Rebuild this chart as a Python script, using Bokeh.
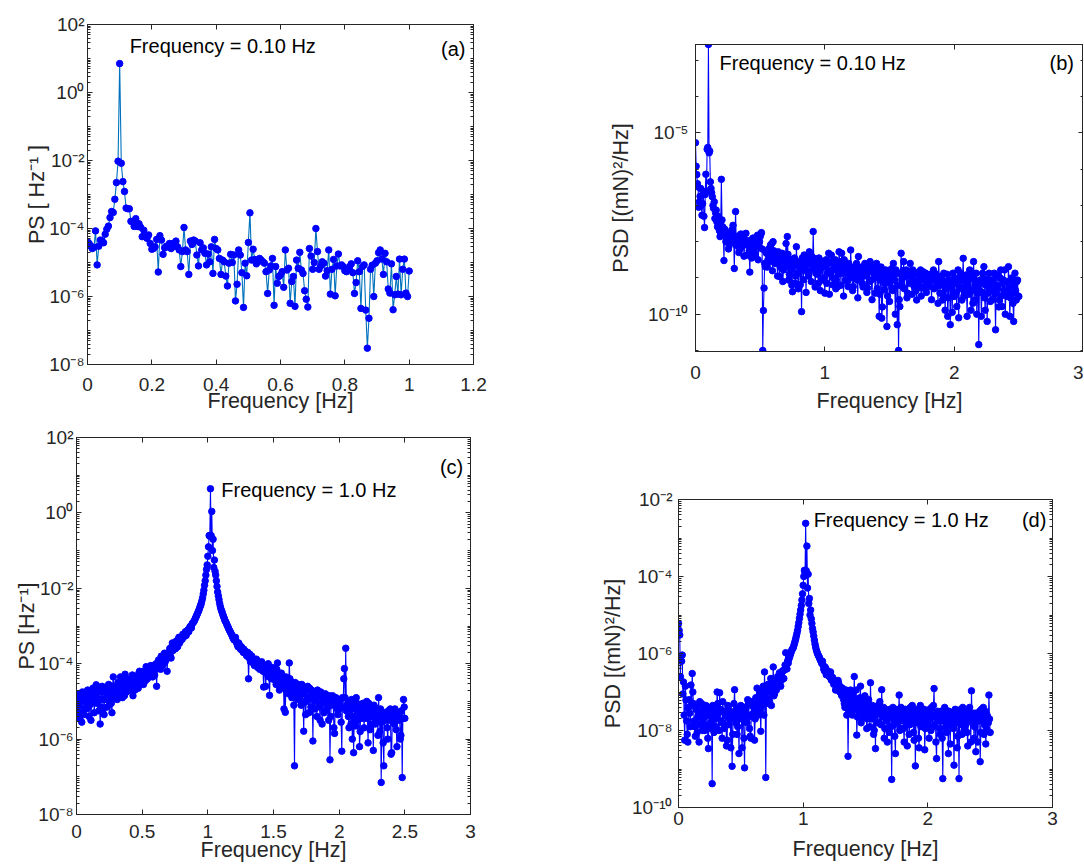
import numpy as np
from bokeh.plotting import figure
from bokeh.layouts import column, row
from bokeh.models import (FixedTicker, CustomJSTickFormatter, LogAxis, LinearAxis,
                          Label, Range1d)
from bokeh.embed import file_html
from bokeh.resources import INLINE

FONT = "Liberation Sans"
AX = "#262626"

# ---------------- data (log10 of the plotted values) -------------
# (a) PS [Hz^-1], bins of 0.005 Hz from 0 to 1.0 Hz
a_df = 0.005
a_log10 = [
    -4.39, -4.44, -4.52, -4.59, -4.55, -4.07, -5.07, -4.52, -4.34, -4.36,
    -4.42, -4.17, -4.02, -3.93, -3.68, -3.50, -3.53, -3.14, -2.65, -2.02,
    0.85, -2.08, -2.62, -2.91, -3.40, -3.42, -3.42, -3.79, -3.81, -3.94,
    -3.71, -3.94, -3.86, -3.96, -4.24, -4.05, -4.19, -4.29, -4.19, -4.44,
    -4.61, -4.59, -4.54, -4.32, -5.28, -4.21, -4.34, -4.76, -4.57, -4.52,
    -4.54, -4.44, -4.59, -4.44, -4.52, -4.37, -4.54, -4.63, -5.12, -4.68,
    -3.97, -4.63, -4.68, -5.35, -4.37, -4.47, -4.34, -4.37, -4.78, -5.10,
    -4.42, -4.63, -4.57, -4.73, -5.07, -4.75, -4.98, -4.54, -5.32, -4.32,
    -4.59, -4.63, -4.88, -5.35, -4.93, -4.98, -5.40, -5.69, -5.02, -4.76,
    -5.00, -4.78, -6.13, -5.64, -4.63, -4.78, -5.30, -6.32, -5.02, -5.39,
    -4.41, -3.54, -4.93, -4.61, -4.91, -5.04, -4.96, -4.88, -4.93, -4.98,
    -5.02, -5.27, -5.91, -5.22, -5.10, -4.88, -6.26, -5.12, -5.61, -5.41,
    -5.37, -5.27, -5.73, -4.63, -5.22, -5.17, -6.20, -5.56, -5.41, -6.29,
    -4.93, -5.17, -4.70, -5.22, -5.32, -5.83, -6.08, -6.31, -4.59, -4.81,
    -5.20, -5.00, -4.00, -4.68, -5.20, -5.10, -4.98, -5.02, -5.40, -5.24,
    -4.63, -5.93, -5.20, -4.91, -5.98, -5.10, -4.75, -5.10, -5.07, -5.12,
    -5.24, -5.27, -5.19, -5.12, -5.04, -5.30, -5.91, -5.59, -4.95, -5.27,
    -6.35, -5.12, -5.07, -6.40, -7.52, -6.64, -5.20, -5.08, -6.00, -5.02,
    -4.95, -4.71, -4.63, -4.90, -5.35, -4.73, -4.98, -5.78, -5.90, -5.04,
    -6.39, -5.95, -5.41, -5.93, -4.90, -5.95, -5.20, -4.90, -5.90, -6.00,
    -5.25,
]

# (b) PSD [(mN)^2/Hz]; "even" bins at 0, 0.01 ... 2.5 Hz, "odd" bins at 0.005 ... 2.495 Hz
b_df = 0.01
b_log10_even = [
    -5.27, -6.15, -6.49, -6.90, -6.53, -7.27, -6.62, -7.61, -6.14, -5.45,
    -2.56, -5.50, -6.53, -6.76, -7.08, -7.36, -7.13, -7.59, -7.45, -7.86,
    -6.28, -7.59, -8.52, -7.72, -7.95, -7.77, -8.11, -7.95, -7.68, -7.55,
    -8.74, -7.17, -8.05, -7.95, -8.23, -7.79, -8.00, -7.86, -8.09, -7.77,
    -8.37, -8.05, -8.84, -7.95, -8.18, -8.00, -8.41, -8.05, -7.82, -8.14,
    -7.86, -7.75, -11.00, -9.28, -8.69, -8.32, -8.50, -8.41, -8.09, -8.05,
    -8.00, -8.41, -8.32, -8.55, -8.28, -8.96, -8.50, -8.32, -8.78, -8.50,
    -8.05, -7.86, -9.06, -8.55, -8.78, -9.38, -8.60, -9.15, -8.14, -8.87,
    -8.69, -9.19, -9.93, -8.50, -8.37, -8.78, -8.41, -8.87, -8.28, -8.60,
    -8.41, -7.72, -8.46, -8.87, -8.55, -9.15, -8.78, -8.55, -9.06, -8.69,
    -9.42, -8.50, -8.87, -8.32, -8.87, -8.37, -9.19, -8.78, -8.50, -9.06,
    -9.24, -8.28, -8.69, -8.32, -8.87, -8.50, -9.06, -8.78, -9.24, -8.69,
    -8.23, -8.92, -9.24, -8.87, -8.69, -9.06, -8.41, -8.87, -8.78, -9.15,
    -8.78, -8.60, -8.92, -9.28, -8.83, -8.55, -9.06, -8.74, -8.87, -9.42,
    -8.60, -8.78, -10.06, -9.06, -10.11, -8.87, -9.33, -8.78, -10.34, -9.06,
    -9.65, -8.87, -9.28, -8.60, -9.06, -8.78, -10.29, -11.00, -9.79, -8.32,
    -9.24, -8.55, -8.96, -8.78, -9.42, -8.83, -8.60, -9.06, -8.78, -9.24,
    -8.87, -9.61, -8.87, -9.06, -8.78, -9.28, -8.83, -9.06, -8.87, -9.19,
    -8.92, -9.24, -8.96, -9.06, -8.78, -8.87, -9.24, -8.96, -8.55, -9.42,
    -9.06, -9.61, -8.87, -9.89, -9.19, -10.06, -9.06, -10.29, -9.24, -8.87,
    -9.51, -9.01, -9.79, -8.78, -9.24, -8.87, -9.61, -8.46, -9.42, -8.92,
    -10.06, -9.06, -8.78, -9.89, -8.87, -8.55, -9.61, -8.87, -9.42, -10.84,
    -9.06, -10.06, -8.87, -8.69, -9.89, -9.06, -9.42, -8.87, -9.65, -9.06,
    -9.33, -8.87, -10.43, -9.24, -8.92, -9.61, -8.78, -9.79, -9.06, -8.78,
    -9.42, -9.51, -8.69, -10.06, -9.06, -9.42, -10.20, -8.87, -9.61, -9.06,
    -9.51,
]
b_log10_odd = [
    -5.92, -6.40, -7.05, -6.75, -7.00, -6.95, -7.30, -6.70, -6.60, -5.40,
    -5.55, -6.35, -6.65, -7.00, -6.90, -7.20, -7.45, -7.30, -7.70, -7.55,
    -7.40, -7.80, -7.65, -8.00, -7.80, -8.20, -7.90, -7.75, -8.00, -7.85,
    -7.90, -8.10, -7.85, -8.30, -7.90, -8.15, -7.80, -8.40, -7.95, -8.05,
    -8.00, -8.25, -8.10, -8.45, -7.90, -8.30, -8.15, -7.95, -8.50, -8.00,
    -7.80, -8.20, -9.90, -8.60, -8.30, -8.70, -8.20, -8.55, -8.35, -8.80,
    -8.25, -8.60, -8.40, -8.95, -8.35, -8.70, -8.45, -9.10, -8.55, -8.40,
    -8.70, -8.35, -8.90, -8.50, -9.20, -8.65, -8.45, -8.95, -8.60, -9.30,
    -8.55, -8.80, -8.45, -9.05, -8.70, -9.40, -8.60, -8.95, -8.50, -9.10,
    -8.75, -8.50, -9.25, -8.65, -8.90, -8.45, -9.35, -8.70, -8.55, -9.00,
    -8.70, -9.15, -8.60, -9.45, -8.80, -8.55, -9.00, -8.65, -9.30, -8.75,
    -8.90, -8.55, -9.20, -8.75, -9.50, -8.65, -8.85, -9.10, -8.60, -9.00,
    -8.80, -9.35, -8.70, -8.95, -8.60, -9.55, -8.85, -9.05, -8.70, -9.25,
    -8.95, -8.65, -9.40, -8.80, -9.10, -8.70, -9.60, -8.85, -9.00, -8.75,
    -9.30, -8.90, -9.45, -8.70, -9.80, -8.95, -9.15, -8.80, -9.50, -8.90,
    -9.10, -8.75, -9.35, -8.95, -10.00, -8.85, -9.20, -9.60, -8.90, -9.05,
    -8.80, -9.30, -8.95, -9.55, -8.85, -9.15, -9.00, -9.45, -8.90, -9.10,
    -9.35, -8.85, -9.20, -9.00, -9.50, -8.90, -9.25, -8.95, -9.40, -9.05,
    -9.15, -8.90, -9.60, -9.00, -9.30, -8.95, -9.10, -9.70, -9.00, -9.20,
    -8.95, -9.45, -9.10, -9.30, -8.90, -9.55, -9.05, -9.20, -9.95, -9.10,
    -9.00, -9.40, -9.15, -10.10, -9.05, -9.30, -8.95, -9.50, -9.10, -9.25,
    -9.20, -9.45, -8.95, -9.35, -9.70, -9.05, -9.25, -10.00, -9.10, -9.35,
    -9.15, -9.40, -9.00, -9.55, -9.20, -10.20, -9.05, -9.35, -9.15, -9.60,
    -9.05, -9.45, -9.20, -9.30, -9.80, -9.00, -9.50, -9.15, -9.35, -10.00,
    -9.10, -9.40, -9.25, -9.55, -9.00, -9.70, -9.20, -9.35, -9.10, -9.50,
]

# (c) PS [Hz^-1]
c_df = 0.01
c_log10_even = [
    -4.85, -5.00, -5.30, -4.90, -5.55, -4.95, -5.20, -4.75, -5.05, -4.80,
    -5.10, -5.50, -4.85, -4.70, -5.00, -4.56, -4.90, -5.25, -5.60, -4.75,
    -4.95, -5.35, -4.65, -4.85, -4.60, -5.00, -4.75, -5.30, -4.35, -4.80,
    -4.65, -4.95, -4.55, -4.80, -4.45, -4.90, -4.60, -4.28, -4.75, -4.50,
    -4.70, -4.45, -4.60, -4.85, -4.40, -4.55, -4.35, -4.65, -4.20, -4.45,
    -4.35, -4.55, -4.25, -4.08, -4.40, -4.20, -4.30, -4.10, -4.35, -4.05,
    -4.15, -4.60, -4.00, -3.95, -4.15, -3.85, -4.00, -3.72, -3.90, -4.20,
    -3.75, -3.60, -3.85, -3.45, -3.60, -3.50, -3.40, -3.55, -3.30, -3.40,
    -3.30, -3.22, -3.28, -3.15, -3.19, -3.10, -3.05, -3.00, -2.95, -2.90,
    -2.84, -2.76, -2.68, -2.60, -2.50, -2.40, -2.25, -2.05, -1.80, -1.50,
    -1.15, -0.60, 0.64, 0.04, -0.70, -1.25, -1.65, -1.95, -2.20, -2.40,
    -2.55, -2.65, -2.75, -2.85, -2.92, -3.00, -3.08, -3.15, -3.22, -3.30,
    -3.37, -3.30, -3.45, -3.55, -3.50, -3.62, -3.58, -3.70, -3.65, -3.75,
    -3.80, -4.40, -3.75, -3.90, -3.85, -4.00, -3.95, -3.88, -4.10, -4.00,
    -4.07, -3.95, -4.20, -4.05, -4.60, -4.15, -4.00, -4.84, -4.25, -4.10,
    -4.40, -4.20, -4.55, -3.98, -4.35, -4.60, -4.25, -4.50, -5.20, -5.29,
    -4.70, -4.45, -3.98, -4.65, -4.90, -4.50, -6.71, -4.60, -4.85, -4.55,
    -4.86, -5.10, -4.70, -5.79, -4.75, -5.00, -4.60, -5.30, -4.90, -4.70,
    -6.05, -4.95, -4.80, -5.40, -4.85, -5.15, -4.75, -5.60, -5.00, -4.90,
    -5.25, -4.95, -5.50, -6.55, -5.05, -4.85, -5.70, -5.10, -5.00, -5.35,
    -5.20, -4.95, -6.32, -5.15, -4.13, -3.59, -5.10, -5.40, -5.00, -5.60,
    -6.00, -6.36, -5.20, -4.90, -5.50, -5.10, -5.80, -5.25, -5.05, -5.70,
    -5.30, -5.00, -6.10, -5.40, -5.60, -5.15, -6.30, -5.35, -5.50, -5.20,
    -4.90, -5.80, -7.15, -5.40, -6.71, -5.50, -5.30, -6.00, -5.45, -5.20,
    -6.36, -5.30, -5.60, -5.35, -6.20, -5.45, -5.30, -5.90, -7.02, -4.95,
    -5.45,
]
c_log10_odd = [
    -5.15, -4.80, -5.45, -5.00, -4.75, -5.35, -4.90, -5.20, -4.70, -5.40,
    -4.90, -5.05, -4.65, -5.30, -4.80, -5.05, -4.70, -4.95, -5.15, -4.60,
    -5.20, -4.70, -4.95, -5.15, -4.55, -4.85, -5.05, -4.60, -4.90, -4.70,
    -4.90, -4.50, -4.75, -4.35, -4.70, -4.60, -4.85, -4.50, -4.40, -4.70,
    -4.50, -4.65, -4.30, -4.55, -4.70, -4.35, -4.50, -4.25, -4.55, -4.35,
    -4.45, -4.20, -4.45, -4.30, -4.15, -4.35, -4.05, -4.25, -4.15, -4.30,
    -4.00, -4.10, -3.90, -4.10, -3.80, -4.05, -3.85, -3.95, -3.75, -3.85,
    -3.70, -3.80, -3.55, -3.65, -3.45, -3.60, -3.50, -3.35, -3.45, -3.30,
    -3.35, -3.25, -3.20, -3.25, -3.12, -3.15, -3.02, -3.05, -2.92, -2.88,
    -2.80, -2.72, -2.64, -2.55, -2.45, -2.33, -2.15, -1.92, -1.65, -1.38,
    -0.90, -0.62, -0.60, -1.00, -1.45, -1.55, -1.80, -2.10, -2.30, -2.48,
    -2.60, -2.70, -2.80, -2.88, -2.96, -3.04, -3.12, -3.18, -3.26, -3.34,
    -3.32, -3.40, -3.50, -3.45, -3.58, -3.55, -3.66, -3.62, -3.72, -3.78,
    -3.70, -3.85, -3.95, -3.80, -3.92, -4.05, -3.90, -4.02, -3.95, -4.15,
    -4.00, -4.12, -4.62, -4.10, -4.25, -4.05, -4.35, -4.18, -4.40, -4.20,
    -4.30, -4.45, -4.15, -4.40, -4.70, -4.30, -4.55, -4.40, -4.65, -4.35,
    -4.55, -4.80, -4.40, -4.60, -4.75, -5.10, -4.50, -4.70, -4.95, -4.65,
    -4.75, -4.55, -5.00, -4.80, -5.35, -4.70, -4.90, -4.65, -5.15, -4.85,
    -4.80, -5.20, -4.90, -4.70, -5.05, -5.50, -4.85, -4.95, -5.30, -4.80,
    -5.00, -5.15, -4.85, -5.40, -4.95, -5.10, -5.85, -4.90, -5.20, -5.05,
    -5.15, -5.55, -4.90, -4.40, -4.90, -5.25, -5.05, -5.70, -5.15, -4.95,
    -5.10, -5.40, -5.65, -5.05, -5.30, -6.20, -5.15, -5.45, -5.25, -5.10,
    -5.45, -5.20, -5.05, -5.75, -5.25, -5.40, -5.10, -5.60, -5.30, -5.90,
    -5.35, -5.20, -5.55, -6.10, -5.30, -5.45, -5.70, -5.25, -5.50, -6.40,
    -5.40, -5.55, -5.20, -5.75, -5.35, -5.50, -6.00, -5.25, -5.45, -5.15,
]

# (d) PSD [(mN)^2/Hz]
d_df = 0.01
d_log10_even = [
    -5.22, -5.52, -6.07, -6.04, -6.74, -8.25, -7.21, -8.10, -7.40, -7.55,
    -6.82, -6.52, -7.30, -7.90, -7.45, -8.05, -7.60, -7.25, -7.85, -7.50,
    -7.70, -8.00, -7.35, -7.60, -8.47, -7.55, -7.80, -9.38, -7.45, -7.70,
    -7.90, -7.00, -7.55, -7.02, -7.75, -8.20, -7.50, -7.85, -7.60, -8.25,
    -7.40, -7.70, -8.45, -8.93, -7.55, -6.94, -7.80, -8.10, -7.50, -7.65,
    -7.35, -8.45, -7.60, -8.97, -7.45, -7.80, -7.30, -7.95, -8.20, -7.25,
    -7.55, -8.25, -7.15, -6.90, -7.60, -7.05, -8.02, -7.35, -6.85, -6.48,
    -9.22, -7.00, -6.80, -7.25, -6.65, -6.95, -6.35, -7.05, -6.70, -6.85,
    -6.69, -6.50, -6.85, -6.60, -6.45, -6.43, -5.98, -6.40, -6.25, -6.10,
    -6.00, -5.90, -5.85, -5.74, -5.62, -5.48, -5.30, -5.09, -4.87, -4.61,
    -4.23, -3.84, -2.62, -3.21, -3.94, -4.57, -4.87, -5.22, -5.44, -5.65,
    -5.83, -5.95, -6.04, -6.10, -6.18, -6.26, -6.30, -6.45, -6.38, -6.50,
    -6.52, -6.60, -6.48, -6.70, -6.65, -6.74, -6.95, -6.80, -6.70, -6.90,
    -6.87, -7.10, -6.95, -7.30, -7.05, -7.60, -8.67, -7.20, -6.95, -7.40,
    -7.10, -6.60, -7.35, -8.12, -7.25, -7.50, -6.85, -7.70, -7.45, -7.25,
    -7.60, -7.95, -7.30, -7.55, -6.76, -7.70, -7.40, -8.00, -8.47, -7.50,
    -7.35, -7.80, -7.55, -6.94, -7.65, -8.20, -7.45, -7.75, -7.50, -8.05,
    -7.60, -9.27, -7.40, -7.85, -8.60, -7.55, -7.70, -7.08, -7.95, -7.50,
    -7.65, -8.30, -7.45, -7.80, -7.60, -8.10, -7.40, -7.75, -7.55, -8.25,
    -8.92, -7.50, -7.70, -8.45, -7.35, -7.60, -7.85, -7.45, -7.95, -7.65,
    -7.55, -8.20, -7.70, -7.40, -7.90, -6.91, -7.60, -8.73, -7.50, -7.75,
    -8.10, -7.55, -9.25, -7.65, -7.45, -8.05, -7.70, -7.50, -8.35, -7.80,
    -7.60, -8.90, -7.45, -7.70, -8.15, -9.25, -7.55, -7.85, -7.40, -8.00,
    -7.65, -7.50, -8.40, -7.75, -7.60, -6.97, -7.80, -8.20, -7.55, -7.70,
    -8.30, -7.60, -8.81, -7.45, -7.75, -8.10, -7.50, -7.95, -7.65, -7.08,
    -8.05,
]
d_log10_odd = [
    -5.40, -6.60, -6.20, -7.05, -7.60, -6.85, -7.75, -8.30, -7.20, -7.90,
    -7.35, -7.00, -7.75, -8.15, -7.40, -7.65, -8.30, -7.50, -7.30, -8.00,
    -7.45, -7.85, -7.60, -8.20, -7.40, -7.95, -7.65, -7.35, -8.05, -7.55,
    -7.65, -7.30, -8.00, -7.45, -7.80, -7.25, -7.95, -7.60, -8.40, -7.35,
    -7.85, -7.50, -7.65, -8.10, -7.30, -7.70, -7.45, -7.90, -8.60, -7.40,
    -7.70, -7.50, -8.20, -7.40, -7.75, -7.20, -7.60, -8.15, -7.35, -7.65,
    -7.40, -7.70, -7.30, -7.50, -7.10, -7.45, -7.25, -6.95, -7.60, -7.15,
    -7.30, -6.90, -7.20, -7.00, -7.35, -6.80, -7.10, -6.75, -6.95, -6.60,
    -6.80, -6.62, -6.70, -6.45, -6.65, -6.30, -6.35, -6.20, -6.15, -6.05,
    -5.95, -5.88, -5.80, -5.68, -5.55, -5.40, -5.20, -4.98, -4.75, -4.45,
    -4.00, -3.90, -3.85, -4.30, -4.70, -5.00, -5.10, -5.35, -5.55, -5.75,
    -5.90, -6.00, -6.07, -6.15, -6.22, -6.20, -6.40, -6.35, -6.55, -6.45,
    -6.58, -6.50, -6.68, -6.62, -6.80, -6.72, -6.85, -6.95, -6.78, -7.00,
    -7.05, -6.90, -7.20, -7.40, -6.95, -7.15, -7.50, -7.30, -7.10, -7.60,
    -7.20, -7.45, -6.95, -7.65, -7.40, -7.15, -7.80, -7.30, -7.55, -7.10,
    -7.45, -7.70, -7.20, -7.90, -7.50, -7.35, -8.10, -7.60, -7.40, -7.80,
    -7.55, -7.25, -7.85, -7.60, -7.40, -7.95, -7.55, -8.30, -7.65, -7.45,
    -7.90, -7.50, -7.70, -8.15, -7.45, -7.80, -7.60, -8.00, -7.40, -7.75,
    -7.95, -7.55, -7.70, -8.40, -7.50, -7.85, -7.65, -7.35, -8.05, -7.60,
    -7.80, -7.45, -8.20, -7.65, -7.90, -7.50, -7.75, -8.50, -7.60, -7.85,
    -7.70, -7.45, -8.00, -7.60, -7.35, -7.85, -8.30, -7.55, -7.70, -7.95,
    -7.50, -8.20, -7.75, -7.40, -7.90, -7.60, -8.60, -7.70, -7.55, -7.85,
    -7.95, -7.50, -7.80, -8.45, -7.60, -7.75, -7.45, -8.10, -7.70, -7.55,
    -7.85, -8.05, -7.60, -7.40, -8.30, -7.70, -7.55, -7.90, -8.55, -7.65,
    -7.75, -7.50, -8.05, -7.65, -7.40, -7.85, -8.35, -7.60, -7.80, -7.70,
]

# ---------------- axes / ticks / texts ----------------
a_xticks = [0, 0.2, 0.4, 0.6, 0.8, 1.0, 1.2]
a_yticks = [1e-8, 1e-6, 1e-4, 1e-2, 1e0, 1e2]
b_xticks = [0, 1, 2, 3]
b_yticks = [1e-10, 1e-5]
c_xticks = [0, 0.5, 1.0, 1.5, 2.0, 2.5, 3.0]
c_yticks = [1e-8, 1e-6, 1e-4, 1e-2, 1e0, 1e2]
d_xticks = [0, 1, 2, 3]
d_yticks = [1e-10, 1e-8, 1e-6, 1e-4, 1e-2]

x_label = "Frequency [Hz]"
a_ylabel = "PS [ Hz\u207b\u00b9 ]"
b_ylabel = "PSD [(mN)\u00b2/Hz]"
c_ylabel = "PS [Hz\u207b\u00b9]"
d_ylabel = "PSD [(mN)\u00b2/Hz]"
a_note, b_note, c_note, d_note = ("Frequency = 0.10 Hz", "Frequency = 0.10 Hz",
                                  "Frequency = 1.0 Hz", "Frequency = 1.0 Hz")


def spectrum(df, even, odd=None):
    """Frequency bins and values: even bins at k*df, odd bins half-way between."""
    f = list(np.arange(len(even)) * df)
    v = list(even)
    if odd is not None:
        f += list(np.arange(len(odd)) * df + df / 2)
        v += list(odd)
    order = np.argsort(f)
    return np.array(f)[order], 10.0 ** np.array(v)[order]


def minor_log(lo_exp, hi_exp, majors, sub=True):
    out = []
    for e in range(lo_exp, hi_exp + 1):
        mults = range(1, 10) if sub else [1]
        for m in mults:
            v = m * 10.0 ** e
            if not any(abs(v - t) / t < 1e-6 for t in majors):
                out.append(v)
    return out


SUP = "{'-':'\u207b','0':'\u2070','1':'\u00b9','2':'\u00b2','3':'\u00b3','4':'\u2074','5':'\u2075','6':'\u2076','7':'\u2077','8':'\u2078','9':'\u2079'}"
LOG_CODE = ("const m = " + SUP + ";\n"
            "const e = Math.round(Math.log10(tick));\n"
            "return '10' + String(e).split('').map(c => m[c]).join('');")
NUM_CODE = "return String(parseFloat(tick.toFixed(3)));"


def panel(width, height, mb, xr, yr, xt, yt, yminor, ylabel, fx, fy,
          line_color, xls, xals, yls, yals, notes):
    p = figure(width=width, height=height, x_range=Range1d(*xr), y_range=Range1d(*yr),
               y_axis_type="log", output_backend="svg", toolbar_location=None,
               title=None, frame_align=False,
               min_border_left=mb[0], min_border_right=mb[1],
               min_border_top=mb[2], min_border_bottom=mb[3])
    p.xgrid.visible = False
    p.ygrid.visible = False
    p.outline_line_color = AX
    p.outline_line_width = 1
    p.background_fill_color = "white"
    p.border_fill_color = "white"

    xa = p.xaxis[0]
    ya = p.yaxis[0]
    xa.ticker = FixedTicker(ticks=xt, minor_ticks=[])
    xa.formatter = CustomJSTickFormatter(code=NUM_CODE)
    ya.ticker = FixedTicker(ticks=yt, minor_ticks=yminor)
    ya.formatter = CustomJSTickFormatter(code=LOG_CODE)
    for ax, lab, ls, als in ((xa, x_label, xls, xals), (ya, ylabel, yls, yals)):
        ax.axis_label = lab
        ax.axis_label_text_font = FONT
        ax.axis_label_text_font_size = "21.5px"
        ax.axis_label_text_font_style = "normal"
        ax.axis_label_text_color = AX
        ax.axis_label_standoff = als
        ax.major_label_text_font = FONT
        ax.major_label_text_font_size = "19px"
        ax.major_label_text_color = AX
        ax.major_label_standoff = ls
        ax.axis_line_color = AX
        ax.major_tick_line_color = AX
        ax.minor_tick_line_color = AX
        ax.major_tick_in = 5
        ax.major_tick_out = 0
        ax.minor_tick_in = 3
        ax.minor_tick_out = 0
    ya.major_label_orientation = "horizontal"

    top = LinearAxis(ticker=FixedTicker(ticks=xt, minor_ticks=[]),
                     formatter=CustomJSTickFormatter(code="return '';"),
                     major_label_text_font_size="0px", major_label_standoff=0,
                     major_tick_in=5, major_tick_out=0, minor_tick_in=0, minor_tick_out=0,
                     axis_line_color=AX, major_tick_line_color=AX)
    p.add_layout(top, "above")
    right = LogAxis(ticker=FixedTicker(ticks=yt, minor_ticks=yminor),
                    formatter=CustomJSTickFormatter(code="return '';"),
                    major_label_text_font_size="0px", major_label_standoff=0,
                    major_tick_in=5, major_tick_out=0, minor_tick_in=3, minor_tick_out=0,
                    axis_line_color=AX, major_tick_line_color=AX, minor_tick_line_color=AX)
    p.add_layout(right, "right")

    p.line(fx, fy, line_color=line_color, line_width=1.1)
    p.scatter(fx, fy, size=6.5, fill_color="#0000FF", line_color="#0000FF")

    for (tx, ty, txt, align) in notes:
        p.add_layout(Label(x=tx, y=ty, text=txt, text_font=FONT, text_font_size="20px",
                           text_color="#000000", text_align=align, text_baseline="middle"))
    return p


a_f, a_v = spectrum(a_df, a_log10)
b_f, b_v = spectrum(b_df, b_log10_even, b_log10_odd)
c_f, c_v = spectrum(c_df, c_log10_even, c_log10_odd)
d_f, d_v = spectrum(d_df, d_log10_even, d_log10_odd)

fa = panel(560, 418, (87, 87, 24, 54), (0, 1.2), (1e-8, 1e2), a_xticks, a_yticks,
           minor_log(-8, 1, a_yticks), a_ylabel, a_f, a_v, "#0072BD",
           13, -5, 3, -3,
           [(0.131, 10 ** 1.37, a_note, "left"), (1.175, 10 ** 1.265, "(a)", "right")])

fb = panel(523, 418, (135, 0, 44, 67), (0, 3), (10 ** -11.03, 10 ** -2.56), b_xticks, b_yticks,
           minor_log(-11, -3, b_yticks, sub=False), b_ylabel, b_f, b_v, "#0000FF",
           14, 7, 7, 12,
           [(0.186, 10 ** -3.08, b_note, "left"), (2.926, 10 ** -3.08, "(b)", "right")])

fc = panel(540, 448, (76, 70, 19, 52), (0, 3), (1e-8, 1e2), c_xticks, c_yticks,
           minor_log(-8, 1, c_yticks), c_ylabel, c_f, c_v, "#0000FF",
           10, -3, 3, -4,
           [(1.103, 10 ** 0.61, c_note, "left"), (2.945, 10 ** 1.21, "(c)", "right")])

fd = panel(543, 448, (138, 31, 81, 59), (0, 3), (1e-10, 1e-2), d_xticks, d_yticks,
           minor_log(-10, -3, d_yticks), d_ylabel, d_f, d_v, "#0000FF",
           4, 9, 6, 4,
           [(1.084, 10 ** -2.52, d_note, "left"), (2.951, 10 ** -2.52, "(d)", "right")])

layout = column(row(fa, fb), row(fc, fd))
open("out.html", "w").write(file_html(layout, INLINE))
